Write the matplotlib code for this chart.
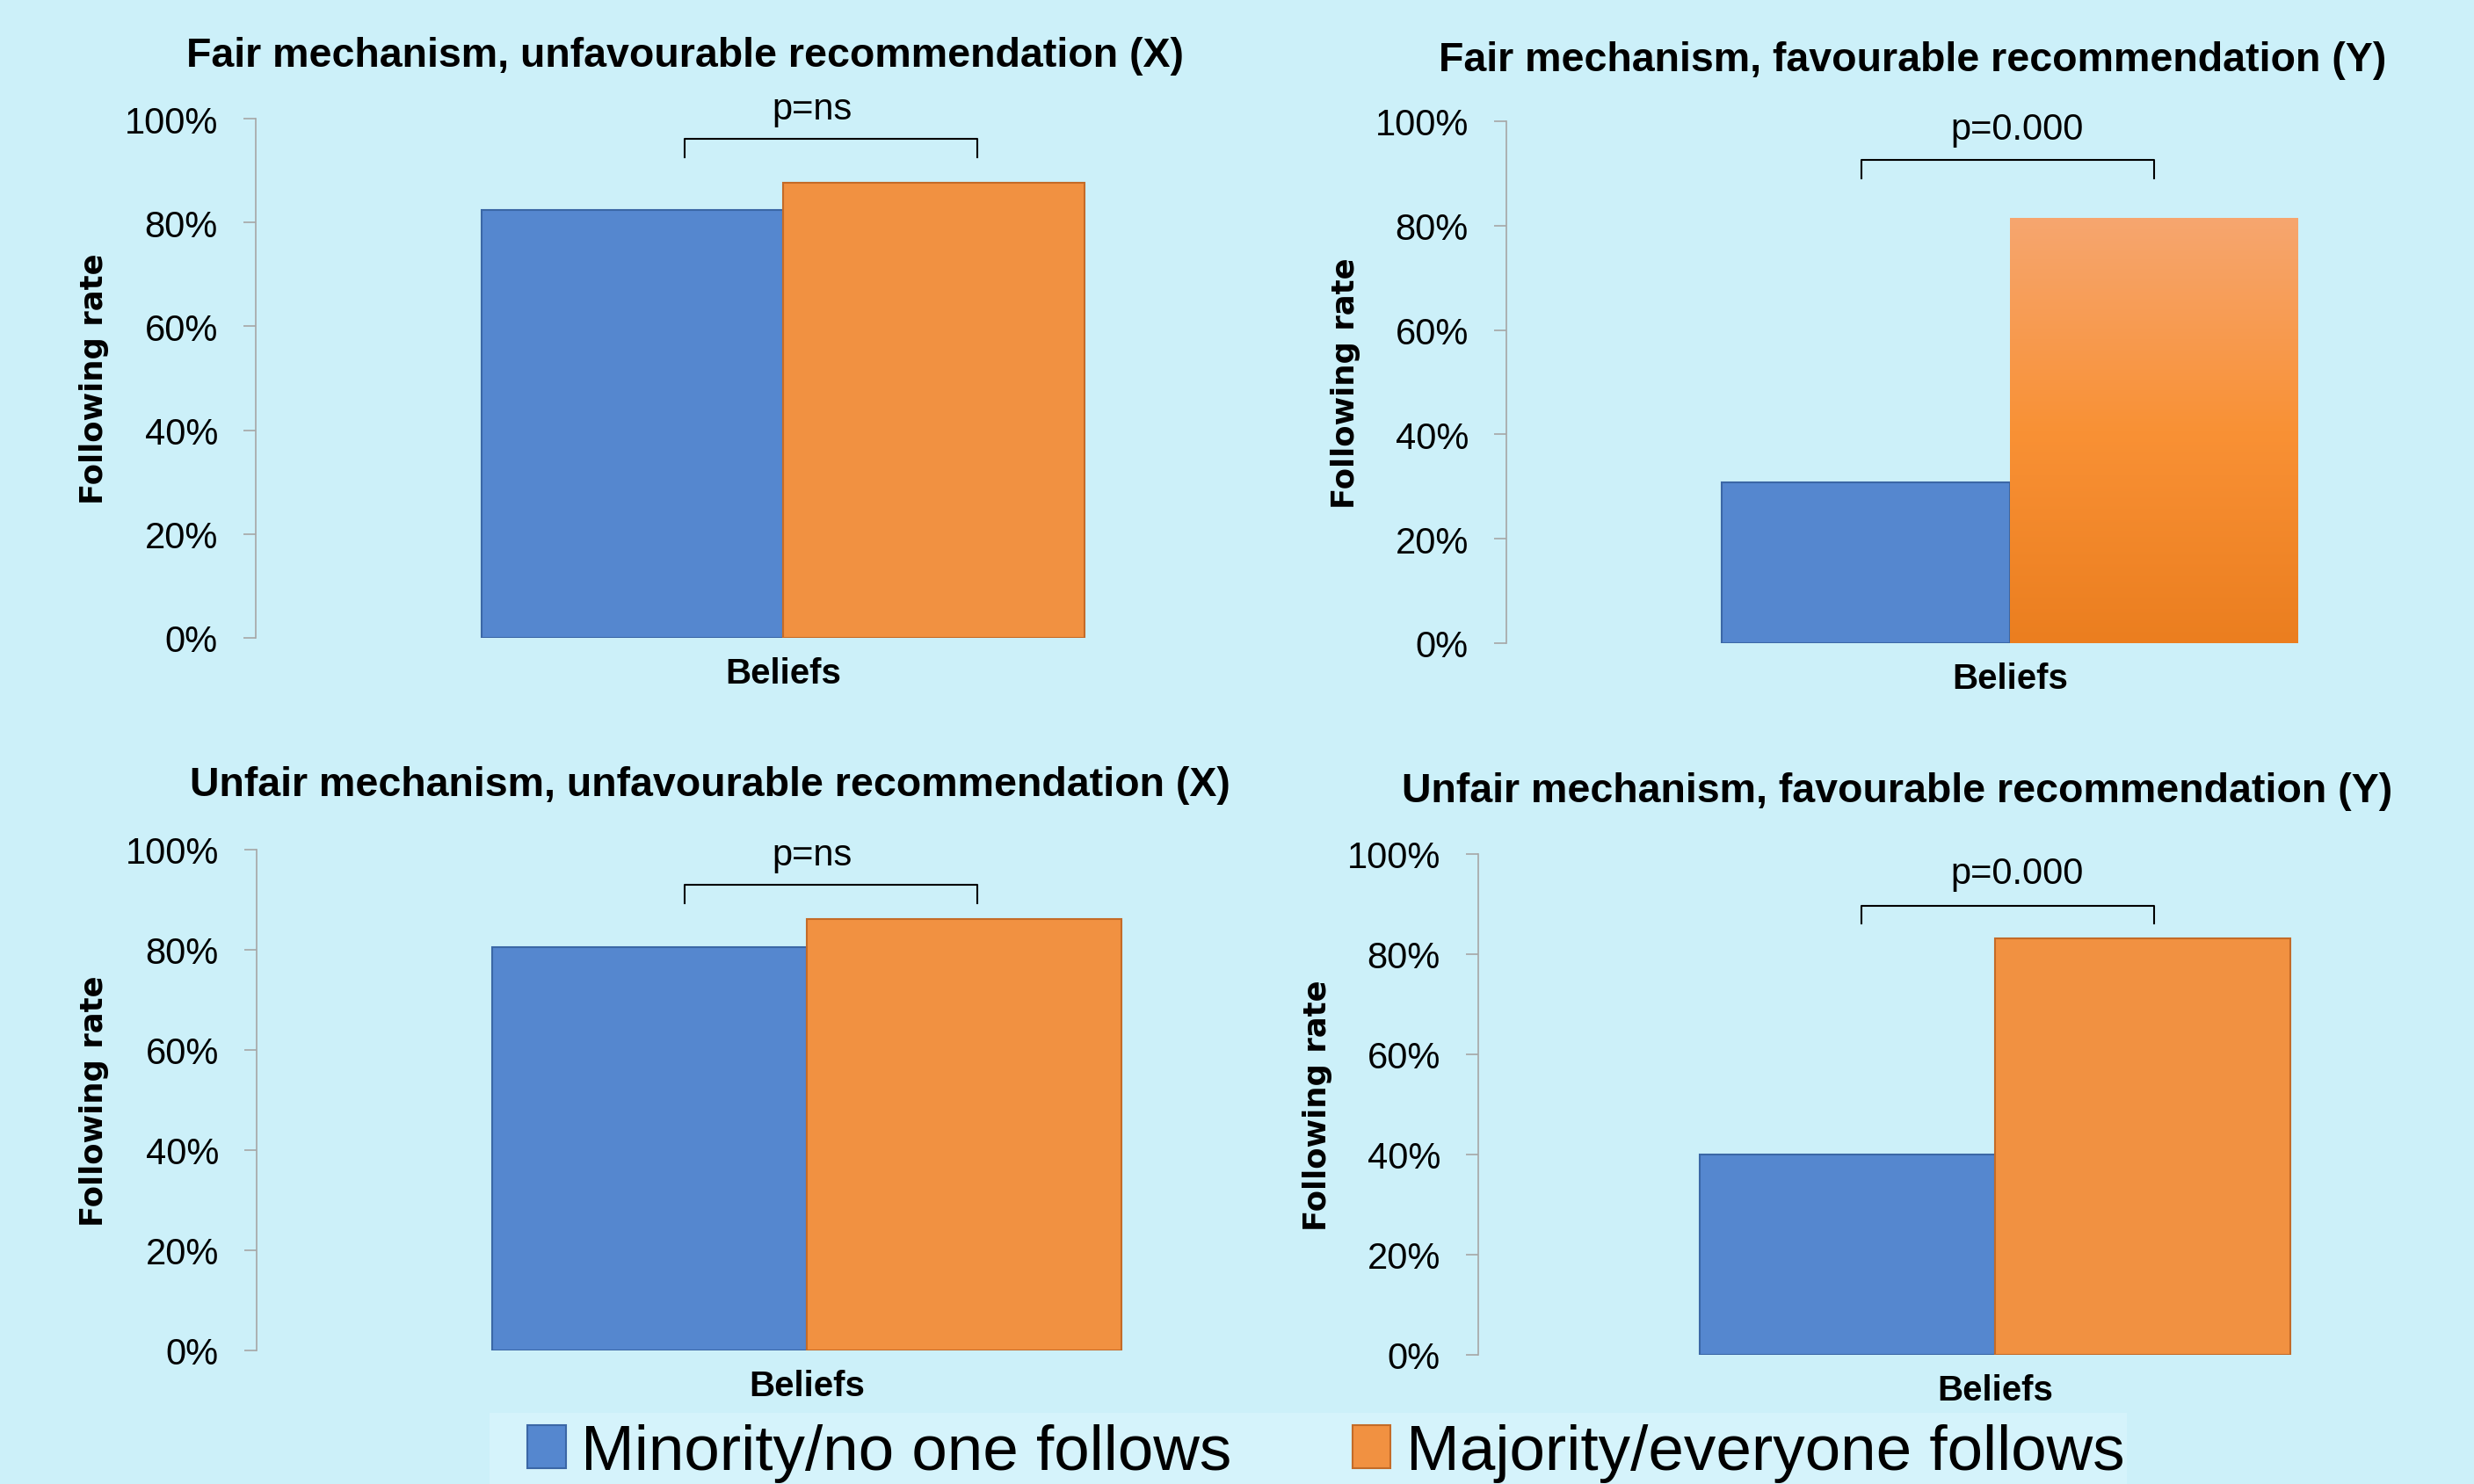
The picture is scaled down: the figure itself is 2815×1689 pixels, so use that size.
import matplotlib.pyplot as plt
import matplotlib.patches as mpatches
import numpy as np
from matplotlib.colors import LinearSegmentedColormap
from matplotlib.ticker import PercentFormatter

# data
titles = [
    "Fair mechanism, unfavourable recommendation (X)",
    "Fair mechanism, favourable recommendation (Y)",
    "Unfair mechanism, unfavourable recommendation (X)",
    "Unfair mechanism, favourable recommendation (Y)",
]
series_names = ["Minority/no one follows", "Majority/everyone follows"]
category = "Beliefs"
minority = [0.824, 0.308, 0.805, 0.400]
majority = [0.876, 0.814, 0.861, 0.832]
p_labels = ["p=ns", "p=0.000", "p=ns", "p=0.000"]
gradient_panel = 1

BG = "#CCF0F9"
BLUE, BLUE_EDGE = "#5587CF", "#3B67A6"
ORANGE, ORANGE_EDGE = "#F19141", "#C46B28"
GRAY = "#A6A6A6"

plt.rcParams["font.family"] = ["Liberation Sans", "DejaVu Sans"]

W, H = 2815, 1690
fig = plt.figure(figsize=(W / 100, H / 100), dpi=100, facecolor=BG)

# layout in pixels: axis x, category centre x, y of 0%, y of 100%
boxes = [(291, 891, 727, 136), (1714, 2287, 733, 139),
         (292, 918, 1538, 968), (1682, 2270, 1543, 973)]
title_pos = [(780, 64), (2176, 69), (808, 894), (2159, 901)]
ylabel_x = [107, 1531, 107, 1499]
# bracket: left, right, bottom, top, text x, text y (data units)
brackets = [(-0.187, 0.368, 0.926, 0.961, 0.055, 1.019),
            (-0.295, 0.286, 0.891, 0.926, 0.014, 0.985),
            (-0.222, 0.310, 0.893, 0.930, 0.010, 0.989),
            (-0.259, 0.308, 0.861, 0.896, 0.043, 0.961)]
bw = 0.572

grad = LinearSegmentedColormap.from_list("og", ["#EB7E1F", "#F99135", "#F6A66F"])

handles = None
for i, (L, C, y0, y100) in enumerate(boxes):
    ax = fig.add_axes([L / W, 1 - y0 / H, 2 * (C - L) / W, (y0 - y100) / H])
    ax.set_facecolor("none")
    b1 = ax.bar([-bw / 2], [minority[i]], width=bw, color=BLUE,
                edgecolor=BLUE_EDGE, linewidth=1.5, label=series_names[0])
    b2 = ax.bar([bw / 2], [majority[i]], width=bw, color=ORANGE,
                edgecolor=ORANGE_EDGE, linewidth=1.5, label=series_names[1])
    if handles is None:
        handles = [b1, b2]
    if i == gradient_panel:
        p = b2.patches[0]
        p.set_facecolor("none")
        p.set_edgecolor("none")
        x0, w, h = p.get_x(), p.get_width(), p.get_height()
        im = ax.imshow(np.linspace(0, 1, 256).reshape(-1, 1), cmap=grad,
                       origin="lower", extent=[x0, x0 + w, 0, h],
                       aspect="auto", zorder=1)
        im.set_clip_path(p)
    ax.set_xlim(-1, 1)
    ax.set_ylim(0, 1)
    ax.set_yticks(np.arange(0, 1.01, 0.2))
    ax.yaxis.set_major_formatter(PercentFormatter(1.0, decimals=0))
    ax.set_xticks([0], [category])
    for s in ["top", "right", "bottom"]:
        ax.spines[s].set_visible(False)
    ax.spines["left"].set_color(GRAY)
    ax.spines["left"].set_linewidth(1.2)
    ax.tick_params(axis="y", length=10, width=1.2, color=GRAY, pad=21,
                   labelsize=30)
    ax.tick_params(axis="x", length=0, pad=15, labelsize=29)
    for t in ax.get_xticklabels():
        t.set_fontweight("bold")

    bl, br, yb, yt, tx, ty = brackets[i]
    ax.plot([bl, bl, br, br], [yb, yt, yt, yb], color="black", lw=1.5,
            clip_on=False)
    ax.text(tx, ty, p_labels[i], ha="center", va="center", fontsize=30)

    tx_, ty_ = title_pos[i]
    fig.text(tx_ / W, 1 - ty_ / H, titles[i], ha="center", va="center",
             fontsize=33.5, fontweight="bold")
    fig.text(ylabel_x[i] / W, 1 - (y0 + y100) / 2 / H, "Following rate",
             rotation=90, ha="center", va="center", fontsize=25.5,
             fontweight="bold", family="DejaVu Sans")

# legend background strip
fig.patches.append(mpatches.Rectangle((557 / W, 0), (2420 - 557) / W,
                                      (H - 1609) / H, transform=fig.transFigure,
                                      facecolor="#D5F3FB", edgecolor="none",
                                      zorder=0))
fig.legend(handles=handles, labels=series_names, loc="center left",
           bbox_to_anchor=(600 / W, 1 - 1655 / H), ncol=2, frameon=False,
           fontsize=52.5, handlelength=0.6, handleheight=0.66,
           handletextpad=0.24, columnspacing=1.88, borderpad=0,
           borderaxespad=0)

fig.savefig("out.png", dpi=100, facecolor=BG)
